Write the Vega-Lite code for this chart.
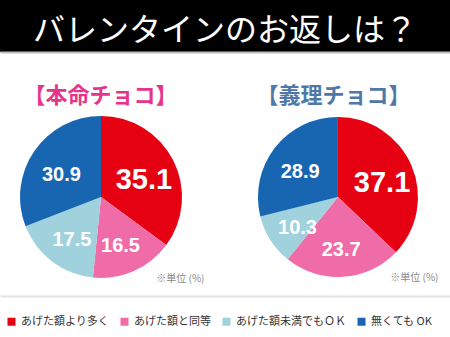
{
  "$schema": "https://vega.github.io/schema/vega-lite/v6.json",
  "padding": 0,
  "background": "white",
  "spacing": 33,
  "datasets": {
    "header": [{"t": "バレンタインのお返しは？"}],
    "pies": [
      {"type": "本命チョコ", "cat": "あげた額より多く", "order": 1, "value": 35.1},
      {"type": "本命チョコ", "cat": "あげた額と同等", "order": 2, "value": 16.5},
      {"type": "本命チョコ", "cat": "あげた額未満でもＯＫ", "order": 3, "value": 17.5},
      {"type": "本命チョコ", "cat": "無くても OK", "order": 4, "value": 30.9},
      {"type": "義理チョコ", "cat": "あげた額より多く", "order": 1, "value": 37.1},
      {"type": "義理チョコ", "cat": "あげた額と同等", "order": 2, "value": 23.7},
      {"type": "義理チョコ", "cat": "あげた額未満でもＯＫ", "order": 3, "value": 10.3},
      {"type": "義理チョコ", "cat": "無くても OK", "order": 4, "value": 28.9}
    ]
  },
  "resolve": {"scale": {"x": "independent", "color": "shared"}, "legend": {"color": "shared"}},
  "vconcat": [
    {
      "width": 450,
      "height": 52,
      "data": {"name": "header"},
      "view": {"fill": "black", "stroke": null},
      "mark": {"type": "text", "color": "white", "fontSize": 32, "font": "Noto Sans CJK JP", "fontWeight": "normal", "baseline": "middle", "dy": 5},
      "encoding": {
        "text": {"field": "t"},
        "x": {"field": "t", "type": "nominal", "scale": {"type": "point"},
          "axis": {"labels": false, "ticks": false, "title": null, "domainColor": "#bdbdbd", "domainWidth": 2}}
      }
    },
    {
      "spacing": 0,
      "resolve": {"scale": {"x": "independent", "color": "shared"}, "legend": {"color": "shared"}},
      "hconcat": [
        {
          "width": 225,
          "height": 198,
          "data": {"name": "pies"},
          "view": {"stroke": null},
          "title": {"text": "【本命チョコ】", "color": "#e5348c", "fontSize": 22, "fontWeight": "bold", "font": "Noto Sans CJK JP", "dx": -12, "dy": 10, "offset": 0},
          "transform": [{"filter": "datum.type === '本命チョコ'"}],
          "encoding": {
            "x": {"field": "type", "type": "nominal", "scale": {"type": "point", "align": 0.449},
              "axis": {"labels": false, "ticks": false, "domainColor": "#e3e3e3", "domainWidth": 2,
                "title": "※単位 (%)", "titleX": 204, "titleY": -18, "titleAlign": "right", "titleBaseline": "middle",
                "titleFontSize": 10, "titleFontWeight": "normal", "titleColor": "#888888", "titleFont": "Noto Sans CJK JP"}},
            "theta": {"field": "value", "type": "quantitative", "stack": true},
            "order": {"field": "order", "type": "quantitative"},
            "color": {"field": "cat", "type": "nominal",
              "scale": {"domain": ["あげた額より多く", "あげた額と同等", "あげた額未満でもＯＫ", "無くても OK"],
                "range": ["#e50012", "#f06ca8", "#9fd2dc", "#1866b2"]}}
          },
          "layer": [
            {"mark": {"type": "arc", "outerRadius": 81, "stroke": null}},
            {"mark": {"type": "text", "radius": 48, "dy": 5, "color": "white", "fontWeight": "bold", "font": "Liberation Sans", "baseline": "middle"},
              "encoding": {
                "text": {"field": "value", "type": "quantitative", "format": ".1f"},
                "size": {"condition": {"test": "datum.order === 1", "value": 29}, "value": 20},
                "color": {"value": "white"}
              }}
          ]
        },
        {
          "width": 225,
          "height": 198,
          "data": {"name": "pies"},
          "view": {"stroke": null},
          "title": {"text": "【義理チョコ】", "color": "#4f78a8", "fontSize": 22, "fontWeight": "bold", "font": "Noto Sans CJK JP", "dx": -4, "dy": 10, "offset": 0},
          "transform": [{"filter": "datum.type === '義理チョコ'"}],
          "encoding": {
            "x": {"field": "type", "type": "nominal", "scale": {"type": "point", "align": 0.502},
              "axis": {"labels": false, "ticks": false, "domainColor": "#e3e3e3", "domainWidth": 2,
                "title": "※単位 (%)", "titleX": 213, "titleY": -19, "titleAlign": "right", "titleBaseline": "middle",
                "titleFontSize": 10, "titleFontWeight": "normal", "titleColor": "#888888", "titleFont": "Noto Sans CJK JP"}},
            "theta": {"field": "value", "type": "quantitative", "stack": true},
            "order": {"field": "order", "type": "quantitative"},
            "color": {"field": "cat", "type": "nominal",
              "scale": {"domain": ["あげた額より多く", "あげた額と同等", "あげた額未満でもＯＫ", "無くても OK"],
                "range": ["#e50012", "#f06ca8", "#9fd2dc", "#1866b2"]}}
          },
          "layer": [
            {"mark": {"type": "arc", "outerRadius": 80, "stroke": null}},
            {"mark": {"type": "text", "radius": 48, "dy": 5, "color": "white", "fontWeight": "bold", "font": "Liberation Sans", "baseline": "middle"},
              "encoding": {
                "text": {"field": "value", "type": "quantitative", "format": ".1f"},
                "size": {"condition": {"test": "datum.order === 1", "value": 29}, "value": 20},
                "color": {"value": "white"}
              }}
          ]
        }
      ]
    }
  ],
  "config": {
    "legend": {
      "orient": "none", "legendX": 6, "legendY": 316, "direction": "horizontal", "title": null,
      "symbolType": "square", "symbolSize": 64, "symbolStrokeWidth": 0, "symbolOpacity": 1,
      "labelFontSize": 11, "labelFont": "Noto Sans CJK JP", "labelColor": "#333333", "labelOffset": 4,
      "columnPadding": 10, "padding": 0
    }
  }
}
